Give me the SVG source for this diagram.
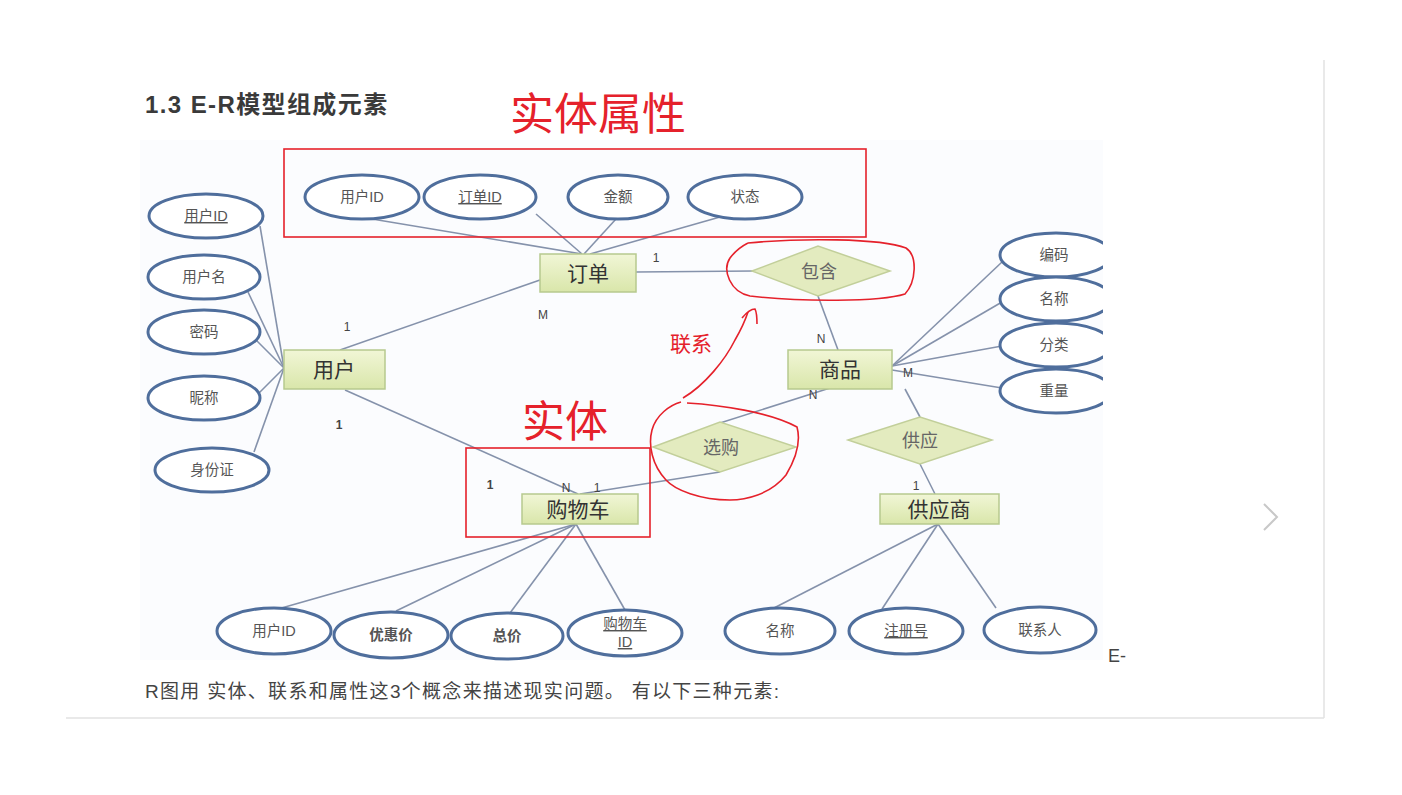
<svg xmlns="http://www.w3.org/2000/svg" width="1402" height="795" viewBox="0 0 1402 795">
<defs>
<style>
.t{font-family:"Liberation Sans","Noto Sans CJK SC",sans-serif;}
.ell{fill:#fff;stroke:#4f6e9c;stroke-width:3;}
.et{font-family:"Liberation Sans","Noto Sans CJK SC",sans-serif;font-size:14.5px;fill:#555;text-anchor:middle;}
.ent{fill:url(#g);stroke:#b7c98e;stroke-width:1.5;}
.entt{font-family:"Noto Sans CJK SC",sans-serif;font-size:21px;fill:#333;text-anchor:middle;}
.dia{fill:#e3ebbf;stroke:#c2cf9a;stroke-width:1.5;}
.diat{font-family:"Noto Sans CJK SC",sans-serif;font-size:18px;fill:#666;text-anchor:middle;}
.ln{stroke:#8592ab;stroke-width:1.6;fill:none;}
.lab{font-family:"Liberation Sans",sans-serif;font-size:12px;fill:#444;text-anchor:middle;}
.red{fill:none;stroke:#e5212b;stroke-width:1.6;}
.redt{font-family:"Noto Sans CJK SC",sans-serif;fill:#e5212b;}
</style>
<linearGradient id="g" x1="0" y1="0" x2="0" y2="1">
<stop offset="0" stop-color="#f1f6d6"/>
<stop offset="1" stop-color="#d9e6aa"/>
</linearGradient>
<clipPath id="photo"><rect x="140" y="140" width="963" height="520"/></clipPath>
</defs>
<rect width="1402" height="795" fill="#fff"/>
<line x1="1324" y1="60" x2="1324" y2="718" stroke="#e2e2e2" stroke-width="1.5"/>
<line x1="66" y1="718" x2="1324" y2="718" stroke="#e2e2e2" stroke-width="1.5"/>
<polyline points="1264,504 1277,517 1264,530" fill="none" stroke="#c8c8c8" stroke-width="2"/>
<rect x="140" y="140" width="963" height="520" fill="#fbfcfe"/>
<text class="t" x="145" y="113" font-size="24" font-weight="bold" letter-spacing="1.4" fill="#3a3a3a">1.3 E-R模型组成元素</text>

<g id="connectors" clip-path="url(#photo)">
<line class="ln" x1="372" y1="219" x2="582" y2="254"/>
<line class="ln" x1="536" y1="214" x2="582" y2="254"/>
<line class="ln" x1="616" y1="219" x2="584" y2="254"/>
<line class="ln" x1="720" y1="217" x2="590" y2="254"/>
<line class="ln" x1="636" y1="272" x2="753" y2="271"/>
<line class="ln" x1="540" y1="280" x2="340" y2="350"/>
<line class="ln" x1="818" y1="296" x2="838" y2="350"/>
<line class="ln" x1="892" y1="366" x2="1002" y2="262"/>
<line class="ln" x1="892" y1="366" x2="1002" y2="302"/>
<line class="ln" x1="892" y1="366" x2="1002" y2="346"/>
<line class="ln" x1="892" y1="370" x2="1002" y2="388"/>
<line class="ln" x1="905" y1="389" x2="920" y2="417"/>
<line class="ln" x1="920" y1="464" x2="935" y2="494"/>
<line class="ln" x1="720" y1="423" x2="830" y2="388"/>
<line class="ln" x1="580" y1="494" x2="720" y2="472"/>
<line class="ln" x1="345" y1="390" x2="578" y2="494"/>
<line class="ln" x1="260" y1="226" x2="284" y2="368"/>
<line class="ln" x1="248" y1="292" x2="284" y2="368"/>
<line class="ln" x1="256" y1="340" x2="284" y2="368"/>
<line class="ln" x1="258" y1="394" x2="284" y2="368"/>
<line class="ln" x1="254" y1="452" x2="284" y2="368"/>
<line class="ln" x1="576" y1="524" x2="278" y2="609"/>
<line class="ln" x1="576" y1="524" x2="396" y2="611"/>
<line class="ln" x1="576" y1="524" x2="510" y2="613"/>
<line class="ln" x1="576" y1="524" x2="625" y2="610"/>
<line class="ln" x1="938" y1="524" x2="772" y2="609"/>
<line class="ln" x1="938" y1="524" x2="882" y2="609"/>
<line class="ln" x1="938" y1="524" x2="996" y2="608"/>
<text class="lab" x="656" y="262">1</text>
<text class="lab" x="347" y="331">1</text>
<text class="lab" x="543" y="319" font-size="13">M</text>
<text class="lab" x="821" y="343">N</text>
<text class="lab" x="908" y="377" font-size="13">M</text>
<text class="lab" x="813" y="399">N</text>
<text class="lab" x="916" y="490">1</text>
<text class="lab" x="597" y="492">1</text>
<text class="lab" x="566" y="492" font-size="10">N</text>
<text class="lab" x="339" y="429" font-size="15" font-weight="bold" fill="#222">1</text>
<text class="lab" x="490" y="489" font-size="15" font-weight="bold" fill="#222">1</text>
</g>

<g id="attr-order-userid"><ellipse class="ell" cx="362" cy="197" rx="57" ry="22"/><text class="et" x="362" y="202">用户ID</text></g>
<g id="attr-order-id"><ellipse class="ell" cx="480" cy="197" rx="56" ry="22"/><text class="et" x="480" y="202" text-decoration="underline">订单ID</text></g>
<g id="attr-amount"><ellipse class="ell" cx="618" cy="197" rx="50" ry="22"/><text class="et" x="618" y="202">金额</text></g>
<g id="attr-status"><ellipse class="ell" cx="745" cy="197" rx="57" ry="22"/><text class="et" x="745" y="202">状态</text></g>

<g id="attr-user-id"><ellipse class="ell" cx="206" cy="216" rx="57" ry="22"/><text class="et" x="206" y="221" text-decoration="underline">用户ID</text></g>
<g id="attr-username"><ellipse class="ell" cx="204" cy="277" rx="56" ry="22"/><text class="et" x="204" y="282">用户名</text></g>
<g id="attr-password"><ellipse class="ell" cx="204" cy="332" rx="56" ry="22"/><text class="et" x="204" y="337">密码</text></g>
<g id="attr-nickname"><ellipse class="ell" cx="204" cy="398" rx="56" ry="22"/><text class="et" x="204" y="403">昵称</text></g>
<g id="attr-idcard"><ellipse class="ell" cx="212" cy="470" rx="57" ry="22"/><text class="et" x="212" y="475">身份证</text></g>

<g clip-path="url(#photo)">
<g id="attr-code"><ellipse class="ell" cx="1056" cy="255" rx="56" ry="22"/><text class="et" x="1054" y="260">编码</text></g>
<g id="attr-name"><ellipse class="ell" cx="1056" cy="299" rx="56" ry="22"/><text class="et" x="1054" y="304">名称</text></g>
<g id="attr-category"><ellipse class="ell" cx="1056" cy="345" rx="56" ry="22"/><text class="et" x="1054" y="350">分类</text></g>
<g id="attr-weight"><ellipse class="ell" cx="1056" cy="391" rx="56" ry="22"/><text class="et" x="1054" y="396">重量</text></g>
</g>

<g id="attr-cart-userid"><ellipse class="ell" cx="274" cy="631" rx="57" ry="23"/><text class="et" x="274" y="636">用户ID</text></g>
<g id="attr-discount"><ellipse class="ell" cx="391" cy="635" rx="57" ry="23"/><text class="et" x="391" y="640" font-weight="bold" fill="#222">优惠价</text></g>
<g id="attr-total"><ellipse class="ell" cx="507" cy="636" rx="56" ry="23"/><text class="et" x="507" y="641" font-weight="bold" fill="#222">总价</text></g>
<g id="attr-cartid"><ellipse class="ell" cx="625" cy="633" rx="57" ry="23"/><text class="et" x="625" y="629" text-decoration="underline">购物车</text><text class="et" x="625" y="647" text-decoration="underline">ID</text></g>

<g id="attr-sup-name"><ellipse class="ell" cx="780" cy="631" rx="55" ry="23"/><text class="et" x="780" y="636">名称</text></g>
<g id="attr-regno"><ellipse class="ell" cx="906" cy="631" rx="57" ry="23"/><text class="et" x="906" y="636" text-decoration="underline">注册号</text></g>
<g id="attr-contact"><ellipse class="ell" cx="1040" cy="630" rx="56" ry="23"/><text class="et" x="1040" y="635">联系人</text></g>

<g id="ent-order"><rect class="ent" x="540" y="254" width="96" height="38"/><text class="entt" x="588" y="281">订单</text></g>
<g id="ent-user"><rect class="ent" x="284" y="350" width="101" height="39"/><text class="entt" x="334" y="377">用户</text></g>
<g id="ent-product"><rect class="ent" x="788" y="350" width="104" height="39"/><text class="entt" x="840" y="377">商品</text></g>
<g id="ent-cart"><rect class="ent" x="522" y="494" width="116" height="30"/><text class="entt" x="578" y="517">购物车</text></g>
<g id="ent-supplier"><rect class="ent" x="880" y="494" width="119" height="30"/><text class="entt" x="939" y="517">供应商</text></g>

<g id="rel-contain"><polygon class="dia" points="752,271 818,246 890,271 818,296"/><text class="diat" x="819" y="278">包含</text></g>
<g id="rel-select"><polygon class="dia" points="653,447 720,422 796,447 720,472"/><text class="diat" x="721" y="454">选购</text></g>
<g id="rel-supply"><polygon class="dia" points="848,440 920,417 992,440 920,464"/><text class="diat" x="920" y="447">供应</text></g>

<g id="text-bottom">
<text class="t" x="145" y="698" font-size="19" letter-spacing="1.3" fill="#444">R图用 实体、联系和属性这3个概念来描述现实问题。 有以下三种元素:</text>
<text class="t" x="1108" y="662" font-size="18" fill="#444">E-</text>
</g>

<g id="annotations">
<rect class="red" x="284" y="149" width="582" height="88"/>
<rect class="red" x="466" y="448" width="184" height="89"/>
<text class="redt" x="510" y="130" font-size="44">实体属性</text>
<text class="redt" x="522" y="437" font-size="43">实体</text>
<text class="redt" x="670" y="351" font-size="21">联系</text>
<path class="red" d="M748,243 C800,238 880,238 906,248 C918,256 916,282 905,294 C880,302 800,302 750,296 C730,292 722,270 730,258 C736,250 742,246 748,243"/>
<path class="red" d="M683,398 C705,385 725,360 735,340 C742,328 746,318 748,312"/>
<path class="red" d="M742,318 C747,312 752,309 755,309 C757,313 757,318 757,324"/>
<path class="red" d="M687,403 C720,405 770,412 797,427 C802,445 792,465 786,475 C770,495 745,500 730,500 C700,500 675,490 666,480 C652,465 648,445 652,430 C656,415 670,405 681,402"/>
</g>
</svg>
